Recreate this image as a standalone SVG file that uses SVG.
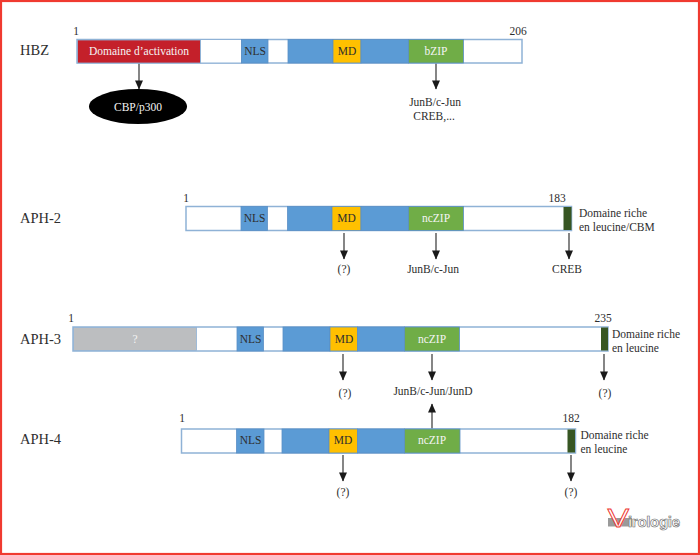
<svg xmlns="http://www.w3.org/2000/svg" width="700" height="555" viewBox="0 0 700 555">
<style>
text{font-family:"Liberation Serif","Times New Roman",serif;font-size:11.5px;fill:#2e2e2e}
.m{text-anchor:middle}
.t{font-size:14.5px}
.w{fill:#f4f4f4}
.f{fill:none;stroke:#8fb2d6;stroke-width:1.5}
.b{fill:#5b9bd5;stroke:#5b90c6;stroke-width:.8}
.y{fill:#ffc000;stroke:#5b90c6;stroke-width:.8}
.g{fill:#70ad47;stroke:#5b90c6;stroke-width:.8}
.d{fill:#375623}
.e{fill:#fff;stroke:#8fb2d6;stroke-width:1}
.l{stroke:#444;stroke-width:1.3;fill:none;marker-end:url(#a)}
</style>
<defs><marker id="a" markerUnits="userSpaceOnUse" markerWidth="10" markerHeight="8" refX="9.5" refY="4.5" orient="auto" viewBox="0 0 10 9"><path d="M0 0L10 4.5L0 9Z" fill="#1a1a1a"/></marker></defs>
<rect x="1" y="1" width="698" height="553" fill="#fff" stroke="#f03a30" stroke-width="2.200"/>
<g id="connectors">
<path class="l" d="M139 63V89"/><path class="l" d="M436 63V89"/>
<path class="l" d="M344 233V259"/><path class="l" d="M436 233V259"/><path class="l" d="M569 233V259"/>
<path class="l" d="M343 354V380"/><path class="l" d="M432 354V380"/><path class="l" d="M604 354V380"/>
<path class="l" d="M432 429V404"/>
<path class="l" d="M343 455V481"/><path class="l" d="M571 455V481"/>
</g>
<g id="hbz">
<text class="t" x="20" y="55">HBZ</text><text class="m" x="76" y="35">1</text><text class="m" x="518" y="35">206</text>
<rect class="f" x="77" y="39.5" width="445" height="23.5"/>
<rect x="77.5" y="40" width="123" height="23" fill="#c4202a" stroke="#8fb2d6" stroke-width=".8"/>
<rect class="e" x="200.500" y="39.500" width="41" height="23.500"/>
<rect class="b" x="241.500" y="39.500" width="26.500" height="23.500"/><rect class="b" x="288" y="39.500" width="45" height="23.500"/><rect class="y" x="333" y="39.500" width="28" height="23.500"/><rect class="b" x="361" y="39.500" width="47.500" height="23.500"/><rect class="g" x="408.500" y="39.500" width="55" height="23.500"/>
<text class="m w" x="139" y="55">Domaine d’activation</text><text class="m" x="255" y="55">NLS</text><text class="m" x="347" y="55">MD</text><text class="m w" x="436" y="55">bZIP</text>
</g>
<g id="cbp"><ellipse cx="138" cy="106.500" rx="49" ry="17.500" fill="#000"/><text class="m w" x="138" y="111">CBP/p300</text></g>
<g id="hbz-targets"><text class="m" x="435" y="106">JunB/c-Jun</text><text class="m" x="434" y="120">CREB,...</text></g>
<g id="aph2">
<text class="t" x="20" y="223">APH-2</text><text class="m" x="186" y="202">1</text><text class="m" x="557" y="202">183</text>
<rect class="f" x="186" y="206.500" width="385.500" height="24"/>
<rect class="b" x="241" y="206.500" width="26.500" height="24"/><rect class="b" x="287.500" y="206.500" width="44.500" height="24"/><rect class="y" x="332" y="206.500" width="29" height="24"/><rect class="b" x="361" y="206.500" width="47.500" height="24"/><rect class="g" x="408.500" y="206.500" width="55" height="24"/><rect class="d" x="563.500" y="207" width="8" height="23"/>
<text class="m" x="254.500" y="222">NLS</text><text class="m" x="346.500" y="222">MD</text><text class="m w" x="436" y="222">ncZIP</text>
<text x="579" y="217">Domaine riche</text><text x="579" y="231">en leucine/CBM</text>
<text class="m" x="344" y="273">(?)</text><text class="m" x="433" y="273">JunB/c-Jun</text><text class="m" x="567" y="273">CREB</text>
</g>
<g id="aph3">
<text class="t" x="20" y="344">APH-3</text><text class="m" x="71" y="322">1</text><text class="m" x="603" y="322">235</text>
<rect class="f" x="73" y="327" width="535" height="24"/>
<rect x="73.500" y="327.500" width="123" height="23" fill="#bcbec0" stroke="#8fb2d6" stroke-width=".8"/>
<rect class="b" x="237" y="327" width="26.500" height="24"/><rect class="b" x="283" y="327" width="47" height="24"/><rect class="y" x="330" y="327" width="27.500" height="24"/><rect class="b" x="357.500" y="327" width="47" height="24"/><rect class="g" x="404.500" y="327" width="55" height="24"/><rect class="d" x="601" y="327.500" width="7" height="23"/>
<text class="m w" x="135" y="343">?</text><text class="m" x="250.500" y="343">NLS</text><text class="m" x="344" y="343">MD</text><text class="m w" x="432" y="343">ncZIP</text>
<text x="612" y="338">Domaine riche</text><text x="612" y="352">en leucine</text>
<text class="m" x="345" y="397">(?)</text><text class="m" x="433" y="395">JunB/c-Jun/JunD</text><text class="m" x="605" y="397">(?)</text>
</g>
<g id="aph4">
<text class="t" x="20" y="444">APH-4</text><text class="m" x="182" y="422">1</text><text class="m" x="571" y="422">182</text>
<rect class="f" x="181.500" y="429" width="394" height="24"/>
<rect class="b" x="236.500" y="429" width="27.500" height="24"/><rect class="b" x="282" y="429" width="47" height="24"/><rect class="y" x="329" y="429" width="28.500" height="24"/><rect class="b" x="357.500" y="429" width="47" height="24"/><rect class="g" x="404.500" y="429" width="55.500" height="24"/><rect class="d" x="567.500" y="429.500" width="7.500" height="23"/>
<text class="m" x="250.500" y="444">NLS</text><text class="m" x="343" y="444">MD</text><text class="m w" x="432" y="444">ncZIP</text>
<text x="580.500" y="439">Domaine riche</text><text x="580.500" y="453">en leucine</text>
<text class="m" x="343" y="496">(?)</text><text class="m" x="571" y="496">(?)</text>
</g>
<g id="logo">
<rect x="608" y="518" width="24" height="8.500" fill="#9a9a9a"/>
<text transform="translate(607.500 527) scale(1.3 1)" style="font-size:25px;font-family:'Liberation Sans',sans-serif;fill:#fff;stroke:#ee3a33;stroke-width:.8">V</text>
<text x="628" y="526.500" textLength="52" style="font-size:15px;font-family:'Liberation Sans',sans-serif;font-weight:bold;fill:#fff;stroke:#666;stroke-width:.6">irologie</text>
</g>
</svg>
